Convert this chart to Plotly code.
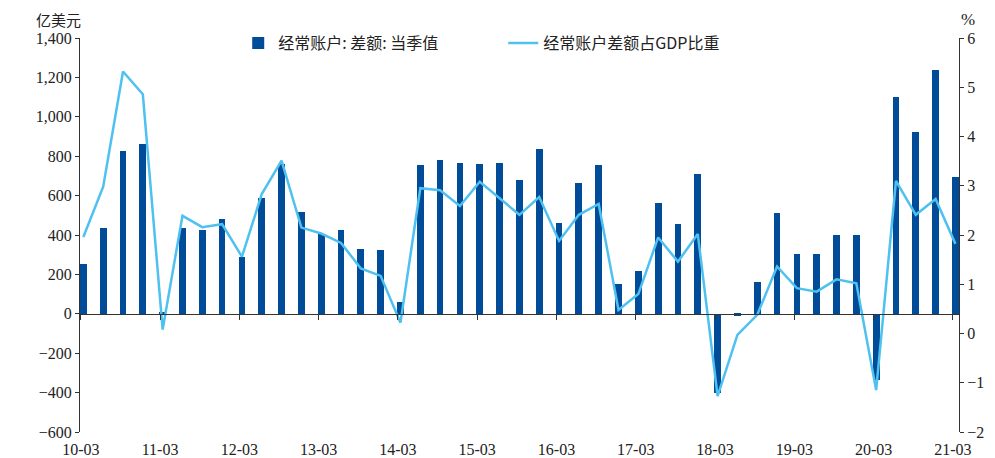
import plotly.graph_objects as go

# quarterly data, 2010Q1 - 2021Q1
quarters = [f"{y:02d}-{m:02d}" for y in range(10, 22) for m in (3, 6, 9, 12)][:45]

ca_balance = [252, 435, 825, 864, 10, 435, 423, 483,
              290, 588, 760, 517, 405, 427, 329, 324,
              58, 753, 782, 764, 760, 764, 679, 837,
              461, 662, 753, 150, 218, 565, 457, 711,
              -400, -10, 160, 511, 303, 306, 398, 402,
              -337, 1101, 921, 1236, 692]

ca_gdp_ratio = [1.96, 2.98, 5.32, 4.86, 0.08, 2.39, 2.16, 2.22,
                1.56, 2.83, 3.51, 2.15, 2.03, 1.84, 1.32, 1.17,
                0.22, 2.95, 2.91, 2.59, 3.08, 2.75, 2.41, 2.77,
                1.88, 2.41, 2.63, 0.48, 0.80, 1.95, 1.46, 2.02,
                -1.27, -0.03, 0.38, 1.36, 0.92, 0.85, 1.10, 1.02,
                -1.15, 3.10, 2.41, 2.73, 1.82]

idx = list(range(len(quarters)))
tick_idx = idx[::4]
tick_text = [quarters[i] for i in tick_idx]
tick_pos = [i - 0.13 for i in tick_idx]

serif = "Liberation Serif, Times New Roman, serif"
cjk = "Noto Sans CJK SC, sans-serif"

fig = go.Figure()

fig.add_trace(go.Bar(
    x=idx, y=ca_balance, name="经常账户: 差额: 当季值",
    marker=dict(color="#004C99", line=dict(width=0)),
    width=0.34, xaxis="x", yaxis="y",
))
fig.add_trace(go.Scatter(
    x=idx, y=ca_gdp_ratio, name="经常账户差额占GDP比重",
    mode="lines", line=dict(color="#4FC1F0", width=2.5),
    xaxis="x", yaxis="y2",
))
# helper trace so the zero-line x axis gets drawn
fig.add_trace(go.Scatter(
    x=[idx[0]], y=[0], mode="markers", marker=dict(opacity=0),
    showlegend=False, hoverinfo="skip", xaxis="x2", yaxis="y",
))

xr = [-0.17, 44.18]

# page body has an 8px margin, so the figure is sized to fit inside
fig.update_layout(
    width=987, height=450,
    margin=dict(l=72, r=36, t=30, b=26, autoexpand=False),
    paper_bgcolor="white", plot_bgcolor="white",
    bargap=0,
    xaxis=dict(
        range=xr, tickvals=tick_pos, ticktext=tick_text,
        showline=False, showgrid=False, zeroline=False, ticks="",
        ticklabelstandoff=6,
        tickfont=dict(family=serif, size=16, color="#222"),
        automargin=False,
    ),
    xaxis2=dict(
        range=xr, overlaying="x", anchor="free", position=0.3,
        tickvals=tick_pos, showticklabels=False,
        ticks="outside", ticklen=5, tickcolor="#333",
        showline=True, linecolor="#333", linewidth=1,
        showgrid=False, zeroline=False, automargin=False,
    ),
    yaxis=dict(
        range=[-600, 1400], dtick=200, tickformat=",",
        showline=True, linecolor="#333", linewidth=1,
        ticks="outside", ticklen=4, tickcolor="#333",
        showgrid=False, zeroline=False, automargin=False,
        tickfont=dict(family=serif, size=16, color="#222"),
    ),
    yaxis2=dict(
        range=[-2, 6], dtick=1, overlaying="y", side="right",
        showline=True, linecolor="#333", linewidth=1,
        ticks="outside", ticklen=4, tickcolor="#333",
        showgrid=False, zeroline=False, automargin=False,
        tickfont=dict(family=serif, size=16, color="#222"),
    ),
    legend=dict(
        orientation="h", x=0.18, y=1.03, xanchor="left", yanchor="top",
        font=dict(family=cjk, size=16, color="#222"),
        entrywidth=220, entrywidthmode="pixels",
        bgcolor="rgba(0,0,0,0)", traceorder="normal",
    ),
    annotations=[
        dict(text="亿美元", xref="paper", yref="paper", x=-0.025, y=1.0,
             yshift=19, xanchor="center", yanchor="middle", showarrow=False,
             font=dict(family=cjk, size=15, color="#222")),
        dict(text="%", xref="paper", yref="paper", x=1.01, y=1.0,
             yshift=19, xanchor="center", yanchor="middle", showarrow=False,
             font=dict(family=serif, size=17, color="#222")),
    ],
)

fig.write_html("out.html")
